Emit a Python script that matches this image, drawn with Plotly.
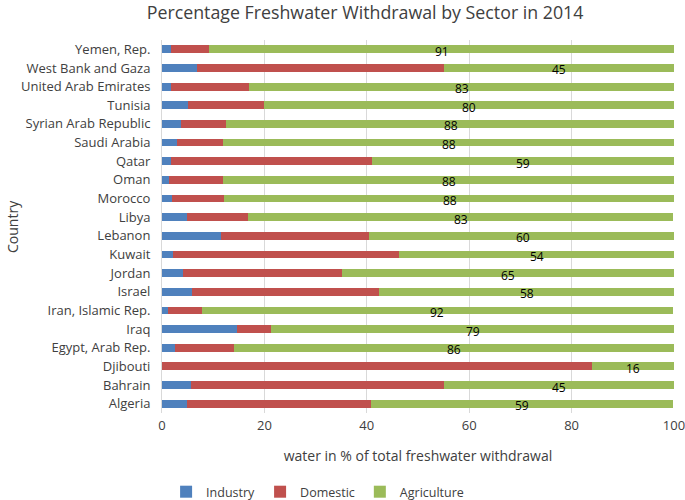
import plotly.graph_objects as go

countries = ["Algeria", "Bahrain", "Djibouti", "Egypt, Arab Rep.", "Iraq",
             "Iran, Islamic Rep.", "Israel", "Jordan", "Kuwait", "Lebanon",
             "Libya", "Morocco", "Oman", "Qatar", "Saudi Arabia",
             "Syrian Arab Republic", "Tunisia", "United Arab Emirates",
             "West Bank and Gaza", "Yemen, Rep."]
industry = [4.9, 5.6, 0.0, 2.6, 14.7, 1.1, 5.8, 4.1, 2.2, 11.5,
            4.8, 2.0, 1.4, 1.8, 2.9, 3.7, 5.0, 1.8, 6.9, 1.8]
domestic = [36.0, 49.5, 84.0, 11.4, 6.5, 6.7, 36.5, 31.0, 44.0, 29.0,
            12.0, 10.2, 10.6, 39.3, 9.1, 8.8, 15.0, 15.2, 48.1, 7.4]
agriculture = [59, 45, 16, 86, 79, 92, 58, 65, 54, 60,
               83, 88, 88, 59, 88, 88, 80, 83, 45, 91]

font_family = "Open Sans, Liberation Sans, sans-serif"
txt = "#404040"

fig = go.Figure()
fig.add_trace(go.Bar(y=countries, x=industry, name="Industry", orientation="h",
                     marker=dict(color="#4F81BD", line=dict(width=0))))
fig.add_trace(go.Bar(y=countries, x=domestic, name="Domestic", orientation="h",
                     marker=dict(color="#C0504D", line=dict(width=0))))
fig.add_trace(go.Bar(y=countries, x=agriculture, name="Agriculture", orientation="h",
                     marker=dict(color="#9BBB59", line=dict(width=0))))

# data labels for agriculture at the centre of each green segment
for c, i, d, a in zip(countries, industry, domestic, agriculture):
    fig.add_annotation(x=i + d + a / 2, y=c, xref="x", yref="y", text=str(a),
                       showarrow=False, yshift=-2,
                       font=dict(size=12, color="#000000", family=font_family))

# y axis title
fig.add_annotation(text="Country", xref="paper", yref="paper",
                   x=-0.292, y=0.5, xanchor="center", yanchor="middle",
                   textangle=-90, showarrow=False,
                   font=dict(size=14, color=txt, family=font_family))

fig.update_layout(
    width=685, height=500,
    barmode="stack", bargap=0.58,
    paper_bgcolor="white", plot_bgcolor="white",
    margin=dict(l=162, r=11, t=40, b=87, autoexpand=False),
    font=dict(family=font_family, color=txt, size=12),
    title=dict(text="Percentage Freshwater Withdrawal by Sector in 2014",
               x=0.533, xanchor="center", xref="container",
               y=0.974, yanchor="middle", yref="container",
               font=dict(size=17.8, color=txt)),
    xaxis=dict(range=[0, 100], dtick=20, showgrid=True, gridcolor="#D9D9D9",
               gridwidth=1, zeroline=False, showline=False, automargin=False,
               tickfont=dict(size=13, color=txt), ticks="", ticklabelstandoff=3,
               ticklabeloverflow="allow",
               title=dict(text="water in % of total freshwater withdrawal",
                          font=dict(size=14, color=txt), standoff=18)),
    yaxis=dict(showgrid=False, showline=True, linecolor="#D9D9D9", linewidth=1,
               ticks="", tickfont=dict(size=13, color=txt), automargin=False,
               ticklabelstandoff=8, range=[-0.5, 19.5]),
    legend=dict(orientation="h", x=0.008, xanchor="left", y=-0.212, yanchor="middle",
                font=dict(size=12.5, color=txt), traceorder="normal",
                itemwidth=30),
)

fig.write_html("out.html", config={"displayModeBar": False},
               post_script="document.body.style.margin='0';document.body.style.overflow='hidden';")
